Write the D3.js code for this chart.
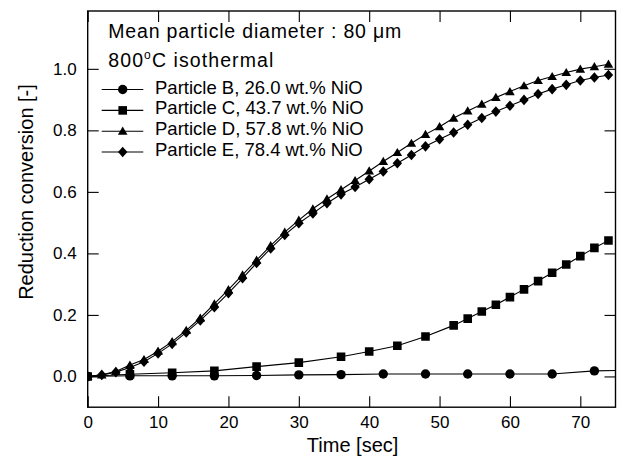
<!DOCTYPE html>
<html>
<head>
<meta charset="utf-8">
<script src="https://cdn.jsdelivr.net/npm/d3@7"></script>
<style>
  html, body { margin: 0; padding: 0; background: #fff; }
  svg { display: block; }
  text { font-family: "Liberation Sans", Arial, Helvetica, sans-serif; fill: #000; }
</style>
</head>
<body>
<svg id="chart" width="620" height="465"></svg>
<script>
// Reduction conversion vs time for four oxygen-carrier particles at 800 °C
const timesB = [0, 6, 12, 18, 24, 30, 36, 42, 48, 54, 60, 66, 72, 78];
const convB  = [0, 0.002, 0.002, 0.002, 0.003, 0.005, 0.006, 0.008, 0.008, 0.008, 0.008, 0.008, 0.018, 0.021];

const timesC = [0, 6, 12, 18, 24, 30, 36, 40, 44, 48, 52, 54, 56, 58, 60, 62, 64, 66, 68, 70, 72, 74];
const convC  = [0, 0.007, 0.012, 0.018, 0.032, 0.045, 0.064, 0.081, 0.100, 0.130, 0.166, 0.188, 0.211, 0.233,
                0.258, 0.283, 0.310, 0.337, 0.364, 0.391, 0.418, 0.442];

const timesDE = [0, 2, 4, 6, 8, 10, 12, 14, 16, 18, 20, 22, 24, 26, 28, 30, 32, 34, 36, 38,
                 40, 42, 44, 46, 48, 50, 52, 54, 56, 58, 60, 62, 64, 66, 68, 70, 72, 74];
const convD  = [0, 0.005, 0.016, 0.037, 0.055, 0.082, 0.113, 0.150, 0.190, 0.236, 0.282, 0.330, 0.378, 0.425,
                0.469, 0.508, 0.545, 0.577, 0.607, 0.637, 0.668, 0.699, 0.728, 0.758, 0.787, 0.812, 0.840,
                0.863, 0.885, 0.907, 0.926, 0.945, 0.962, 0.975, 0.988, 0.999, 1.007, 1.015];
const convE  = [0, 0.005, 0.014, 0.029, 0.048, 0.075, 0.106, 0.143, 0.182, 0.225, 0.271, 0.319, 0.369, 0.416,
                0.460, 0.498, 0.530, 0.563, 0.592, 0.616, 0.641, 0.666, 0.693, 0.720, 0.748, 0.771, 0.793,
                0.818, 0.840, 0.861, 0.880, 0.899, 0.918, 0.934, 0.948, 0.962, 0.972, 0.980];

const seriesLabels = ["Particle B, 26.0 wt.% NiO", "Particle C, 43.7 wt.% NiO",
                      "Particle D, 57.8 wt.% NiO", "Particle E, 78.4 wt.% NiO"];
const seriesMarkers = ["circle", "square", "triangle", "diamond"];

const xTicks = [0, 10, 20, 30, 40, 50, 60, 70];
const yTicks = [0.0, 0.2, 0.4, 0.6, 0.8, 1.0];
const xDomain = [0, 75];
const yDomain = [-0.1, 1.188];

const noteLine1 = "Mean particle diameter : 80 \u03BCm";
const xTitle = "Time [sec]";
const yTitle = "Reduction conversion [-]";

const series = [
  { label: seriesLabels[0], marker: seriesMarkers[0], pts: timesB.map((t, i) => [t, convB[i]]) },
  { label: seriesLabels[1], marker: seriesMarkers[1], pts: timesC.map((t, i) => [t, convC[i]]) },
  { label: seriesLabels[2], marker: seriesMarkers[2], pts: timesDE.map((t, i) => [t, convD[i]]) },
  { label: seriesLabels[3], marker: seriesMarkers[3], pts: timesDE.map((t, i) => [t, convE[i]]) }
];

const svg = d3.select("#chart");
const plotLeft = 87.7, plotRight = 615.5, plotTop = 11, plotBottom = 407.2;

const x = d3.scaleLinear().domain(xDomain).range([plotLeft, plotRight]);
const y = d3.scaleLinear().domain(yDomain).range([plotBottom, plotTop]);

// marker shapes as path strings centred on (0,0)
function markerPath(kind) {
  switch (kind) {
    case "circle":   return d3.symbol(d3.symbolCircle, Math.PI * 4.7 * 4.7)();
    case "square":   return "M-4.3,-4.3H4.3V4.3H-4.3Z";
    case "triangle": return "M0,-4.6L4.8,3.6L-4.8,3.6Z";
    case "diamond":  return "M0,-5.3L4.7,0L0,5.3L-4.7,0Z";
  }
}

svg.append("clipPath").attr("id", "plotClip")
  .append("rect").attr("x", plotLeft).attr("y", plotTop)
  .attr("width", plotRight - plotLeft).attr("height", plotBottom - plotTop);

const line = d3.line().x(d => x(d[0])).y(d => y(d[1]));
const plot = svg.append("g").attr("clip-path", "url(#plotClip)");

series.forEach(s => {
  plot.append("path").datum(s.pts)
    .attr("d", line).attr("fill", "none")
    .attr("stroke", "#000").attr("stroke-width", 1.1);
  plot.selectAll(null).data(s.pts.filter(p => p[0] <= xDomain[1])).enter()
    .append("path")
    .attr("d", markerPath(s.marker))
    .attr("transform", d => `translate(${x(d[0])},${y(d[1])})`)
    .attr("fill", "#000");
});

// axes: ticks point inward on all four sides
const tickLen = 11;
const axisBottom = d3.axisBottom(x).tickValues(xTicks).tickSizeInner(-tickLen).tickSizeOuter(0).tickPadding(9).tickFormat(d3.format("d"));
const axisTop = d3.axisTop(x).tickValues(xTicks).tickSizeInner(-tickLen).tickSizeOuter(0).tickFormat("");
const axisLeft = d3.axisLeft(y).tickValues(yTicks).tickSizeInner(-tickLen).tickSizeOuter(0).tickPadding(11).tickFormat(d3.format(".1f"));
const axisRight = d3.axisRight(y).tickValues(yTicks).tickSizeInner(-tickLen).tickSizeOuter(0).tickFormat("");

function styleAxis(g) {
  g.select(".domain").remove();
  g.selectAll(".tick line").attr("stroke", "#000").attr("stroke-width", 1.1);
  g.selectAll(".tick text").attr("font-size", 17).attr("font-family", "Liberation Sans, Arial, sans-serif").attr("fill", "#000");
}
svg.append("g").attr("transform", `translate(0,${plotBottom})`).call(axisBottom).call(styleAxis);
svg.append("g").attr("transform", `translate(0,${plotTop})`).call(axisTop).call(styleAxis);
svg.append("g").attr("transform", `translate(${plotLeft},0)`).call(axisLeft).call(styleAxis);
svg.append("g").attr("transform", `translate(${plotRight},0)`).call(axisRight).call(styleAxis);

// plot frame
svg.append("rect").attr("x", plotLeft).attr("y", plotTop)
  .attr("width", plotRight - plotLeft).attr("height", plotBottom - plotTop)
  .attr("fill", "none").attr("stroke", "#000").attr("stroke-width", 1.4);

// axis titles
svg.append("text").attr("x", (plotLeft + plotRight) / 2 + 1).attr("y", 452)
  .attr("text-anchor", "middle").attr("font-size", 20).text(xTitle);
svg.append("text").attr("transform", "translate(33,192) rotate(-90)")
  .attr("text-anchor", "middle").attr("font-size", 20).text(yTitle);

// annotation
svg.append("text").attr("x", 108.3).attr("y", 38.3).attr("font-size", 19.5)
  .attr("textLength", 293).attr("lengthAdjust", "spacing").text(noteLine1);
const note2 = svg.append("text").attr("x", 108.3).attr("y", 67.3).attr("font-size", 19.5)
  .attr("textLength", 165).attr("lengthAdjust", "spacing");
note2.append("tspan").text("800");
note2.append("tspan").attr("dy", -8).attr("font-size", 12).text("o");
note2.append("tspan").attr("dy", 8).text("C isothermal");

// legend
const legendBase = [93.5, 114.4, 135.2, 156];
series.forEach((s, i) => {
  const by = legendBase[i];
  const my = by - 4;
  svg.append("line").attr("x1", 101.7).attr("x2", 143.3).attr("y1", my).attr("y2", my)
    .attr("stroke", "#000").attr("stroke-width", 1.1);
  svg.append("path").attr("d", markerPath(s.marker))
    .attr("transform", `translate(122.7,${my})`).attr("fill", "#000");
  svg.append("text").attr("x", 155).attr("y", by).attr("font-size", 18.5).text(s.label);
});
</script>
</body>
</html>
